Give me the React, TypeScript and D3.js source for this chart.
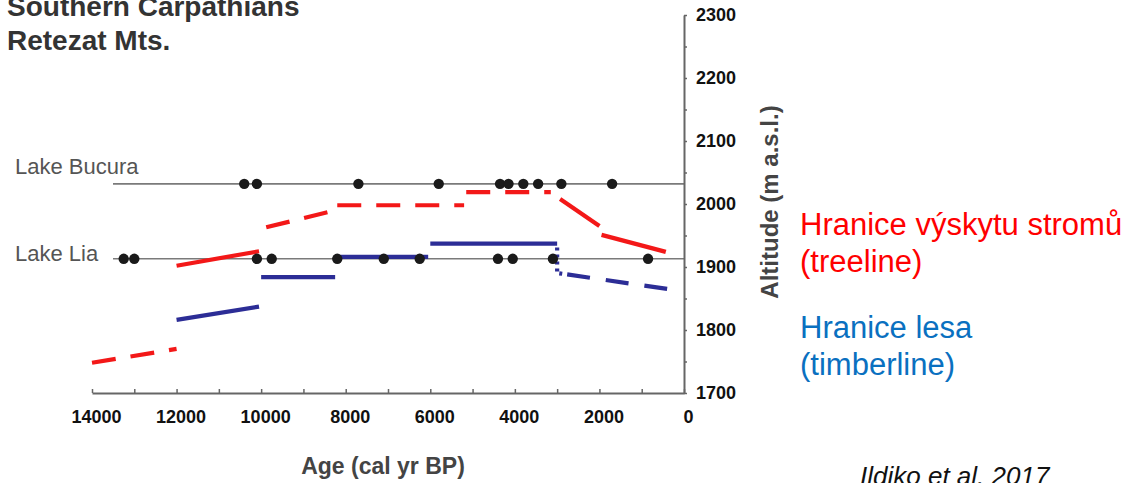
import React, { useEffect, useRef } from "react";
import * as d3 from "d3";

// ages in cal yr BP, altitudes in m a.s.l.
const titleLines = ["Southern Carpathians", "Retezat Mts."];
const lakeNames = ["Lake Bucura", "Lake Lia"];
const lakeAltitudes = [2032, 1913];
const bucuraDots = [10400, 10100, 7700, 5800, 4350, 4150, 3800, 3450, 2900, 1700];
const liaDots = [13250, 13000, 10100, 9750, 8200, 7100, 6250, 4400, 4050, 3100, 850];

const xTicks = d3.range(0, 14001, 1000);
const yTicks = d3.range(1700, 2301, 50);

// treeline pieces (red)
const treelineSegs: [number, number][][] = [
  [[14000, 1748], [12000, 1770]],
  [[12000, 1902], [10050, 1925]],
  [[9880, 1963], [8420, 1987]],
  [[8200, 1998], [5200, 1998]],
  [[5150, 2019], [3150, 2019]],
  [[2930, 2008], [2000, 1965]],
  [[1950, 1951], [430, 1924]],
];
const treelineKind = ["dash", "solid", "dash", "dash", "dash", "solid", "solid"];

// timberline pieces (blue)
const timberlineSegs: [number, number][][] = [
  [[12000, 1816], [10050, 1837]],
  [[10000, 1884], [8250, 1884]],
  [[8250, 1916], [6050, 1916]],
  [[6000, 1937], [3000, 1937]],
  [[3000, 1931], [3000, 1893]],
  [[2950, 1890], [380, 1865]],
];
const timberlineKind = ["solid", "solid", "solid", "solid", "dot", "dash2"];

const legendRed = ["Hranice výskytu stromů", "(treeline)"];
const legendBlue = ["Hranice lesa", "(timberline)"];
const citation = "Ildiko et al. 2017";

const RED = "#f31818";
const NAVY = "#2c2d96";
const FONT = "'Liberation Sans', Arial, sans-serif";

const dashes: Record<string, string | null> = {
  solid: null,
  dash: "24,15",
  dot: "3,4",
  dash2: "3,5,23,16,23,16,23,16",
};

function App() {
  const ref = useRef<SVGSVGElement>(null);

  useEffect(() => {
    const svg = d3.select(ref.current);
    svg.selectAll("*").remove();

    const x = d3.scaleLinear().domain([14000, 0]).range([92, 684]);
    const y = d3.scaleLinear().domain([1700, 2300]).range([393, 15]);

    // title (cropped at the top, as in the source figure)
    svg.append("g")
      .selectAll("text")
      .data(titleLines)
      .enter()
      .append("text")
      .attr("x", 7)
      .attr("y", (_, i) => 16 + i * 34)
      .attr("font-family", FONT)
      .attr("font-weight", "bold")
      .attr("font-size", 28)
      .attr("fill", "#333")
      .text((d) => d);

    // lake reference lines
    lakeAltitudes.forEach((alt, i) => {
      svg.append("line")
        .attr("x1", 113)
        .attr("x2", x(0))
        .attr("y1", y(alt))
        .attr("y2", y(alt))
        .attr("stroke", "#7a7a7a")
        .attr("stroke-width", 1.6);
      svg.append("text")
        .attr("x", 15)
        .attr("y", y(alt) - (i === 0 ? 10 : -2))
        .attr("font-family", FONT)
        .attr("font-size", 22)
        .attr("fill", "#555")
        .text(lakeNames[i]);
    });

    const line = d3.line<[number, number]>()
      .x((d) => x(d[0]))
      .y((d) => y(d[1]));

    const drawSegs = (segs: [number, number][][], kinds: string[], color: string) => {
      segs.forEach((s, i) => {
        const p = svg.append("path")
          .attr("d", line(s))
          .attr("fill", "none")
          .attr("stroke", color)
          .attr("stroke-width", 4.2);
        const da = dashes[kinds[i]];
        if (da) p.attr("stroke-dasharray", da);
      });
    };

    drawSegs(timberlineSegs, timberlineKind, NAVY);
    drawSegs(treelineSegs, treelineKind, RED);

    // dated samples
    const dotG = svg.append("g").attr("fill", "#1a1a1a");
    dotG.selectAll(".b")
      .data(bucuraDots)
      .enter()
      .append("circle")
      .attr("cx", (d) => x(d))
      .attr("cy", y(lakeAltitudes[0]))
      .attr("r", 5.2);
    dotG.selectAll(".l")
      .data(liaDots)
      .enter()
      .append("circle")
      .attr("cx", (d) => x(d))
      .attr("cy", y(lakeAltitudes[1]))
      .attr("r", 5.2);

    // axes
    const xAxis = svg.append("g")
      .attr("transform", `translate(0, ${y(1700)})`)
      .call(
        d3.axisBottom(x)
          .tickValues(xTicks)
          .tickSize(-4)
          .tickSizeOuter(0)
          .tickPadding(17)
          .tickFormat((d) => ((d as number) % 2000 === 0 ? String(d) : ""))
      );
    xAxis.selectAll(".tick text").attr("dx", 4);
    const yAxis = svg.append("g")
      .attr("transform", `translate(${x(0)}, 0)`)
      .call(
        d3.axisRight(y)
          .tickValues(yTicks)
          .tickSize(3)
          .tickSizeOuter(0)
          .tickPadding(9)
          .tickFormat((d) => ((d as number) % 100 === 0 ? String(d) : ""))
      );
    [xAxis, yAxis].forEach((g) => {
      g.select(".domain").attr("stroke", "#666").attr("stroke-width", 2);
      g.selectAll(".tick line").attr("stroke", "#666").attr("stroke-width", 1.5);
      g.selectAll(".tick text")
        .attr("font-family", FONT)
        .attr("font-weight", "bold")
        .attr("font-size", 18)
        .attr("fill", "#111");
    });

    svg.append("text")
      .attr("x", 383)
      .attr("y", 474)
      .attr("text-anchor", "middle")
      .attr("font-family", FONT)
      .attr("font-weight", "bold")
      .attr("font-size", 23)
      .attr("fill", "#444")
      .text("Age (cal yr BP)");

    svg.append("text")
      .attr("transform", "translate(778, 202) rotate(-90)")
      .attr("text-anchor", "middle")
      .attr("font-family", FONT)
      .attr("font-weight", "bold")
      .attr("font-size", 24)
      .attr("fill", "#444")
      .text("Altitude (m a.s.l.)");

    // legend text
    const legend = (lines: string[], y0: number, color: string) => {
      svg.append("g")
        .selectAll("text")
        .data(lines)
        .enter()
        .append("text")
        .attr("x", 800)
        .attr("y", (_, i) => y0 + i * 37)
        .attr("font-family", FONT)
        .attr("font-size", 31)
        .attr("fill", color)
        .text((d) => d);
    };
    legend(legendRed, 235, "#ff0000");
    legend(legendBlue, 338, "#0a70c0");

    svg.append("text")
      .attr("x", 860)
      .attr("y", 485)
      .attr("font-family", FONT)
      .attr("font-style", "italic")
      .attr("font-size", 26)
      .attr("fill", "#111")
      .text(citation);
  }, []);

  return (
    <div style={{ position: "absolute", left: 0, top: 0 }}>
      <svg ref={ref} width={1148} height={483} style={{ display: "block", background: "#fff" }} />
    </div>
  );
}

export default App;
